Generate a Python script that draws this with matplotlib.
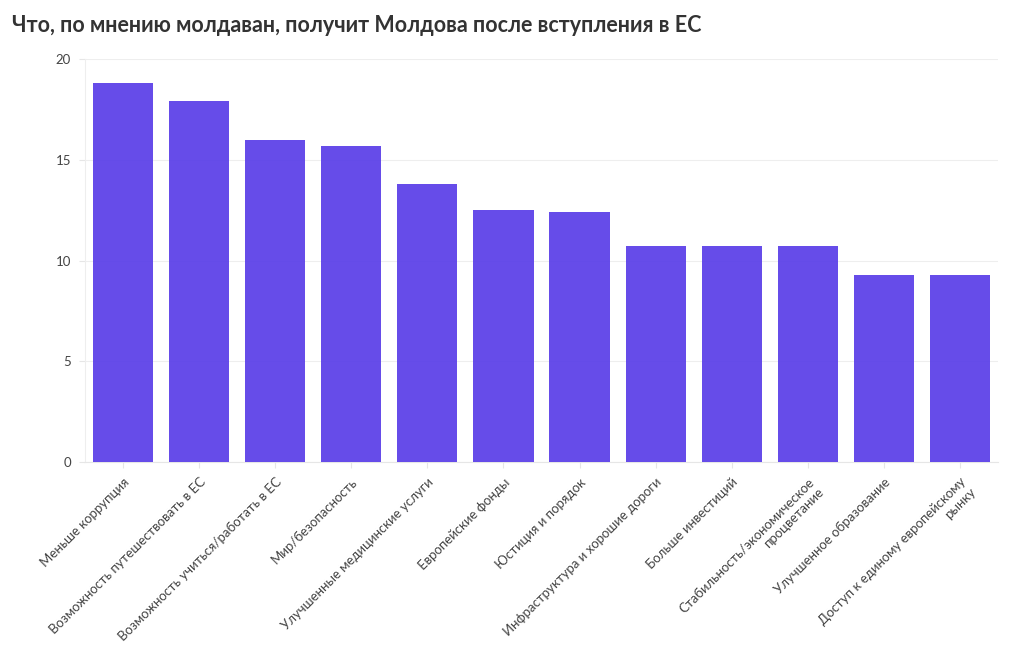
import matplotlib
matplotlib.use("Agg")
import matplotlib.pyplot as plt

plt.rcParams["font.family"] = ["Lato", "DejaVu Sans"]

categories = [
    "Меньше коррупция",
    "Возможность путешествовать в ЕС",
    "Возможность учиться/работать в ЕС",
    "Мир/безопасность",
    "Улучшенные медицинские услуги",
    "Европейские фонды",
    "Юстиция и порядок",
    "Инфраструктура и хорошие дороги",
    "Больше инвестиций",
    "Стабильность/экономическое\nпроцветание",
    "Улучшенное образование",
    "Доступ к единому европейскому\nрынку",
]
values = [18.8, 17.9, 16.0, 15.7, 13.8, 12.5, 12.4, 10.7, 10.7, 10.7, 9.3, 9.3]
yticks = [0, 5, 10, 15, 20]

fig = plt.figure(figsize=(10.2, 6.5), dpi=100)
ax = fig.add_axes([85 / 1020, 1 - 462 / 650, 913 / 1020, 403 / 650])

x = list(range(len(categories)))
ax.bar(x, values, width=0.79, color="#5a3ee8", alpha=0.93, zorder=3)

ax.set_xlim(-0.5, len(categories) - 0.5)
ax.set_ylim(0, 20)
ax.set_yticks(yticks)
ax.set_yticklabels([str(t) for t in yticks], fontsize=9.5, color="#444444")
ax.set_xticks(x)
ax.set_xticklabels(categories, rotation=45, ha="right", rotation_mode="anchor",
                   fontsize=9.5, color="#444444", multialignment="right")
ax.tick_params(axis="both", length=4, color="#e6e6e6", width=0.8, pad=6)
ax.grid(axis="y", color="#eeeeee", linewidth=0.8, zorder=0)

for s in ["top", "right"]:
    ax.spines[s].set_visible(False)
ax.spines["left"].set_color("#eeeeee")
ax.spines["bottom"].set_color("#e6e6e6")

fig.text(12 / 1020, 1 - 25 / 650, "Что, по мнению молдаван, получит Молдова после вступления в ЕС",
         fontsize=15.5, fontweight="bold", color="#333333", va="center", ha="left")

fig.savefig("out.png", dpi=100, facecolor="white")
